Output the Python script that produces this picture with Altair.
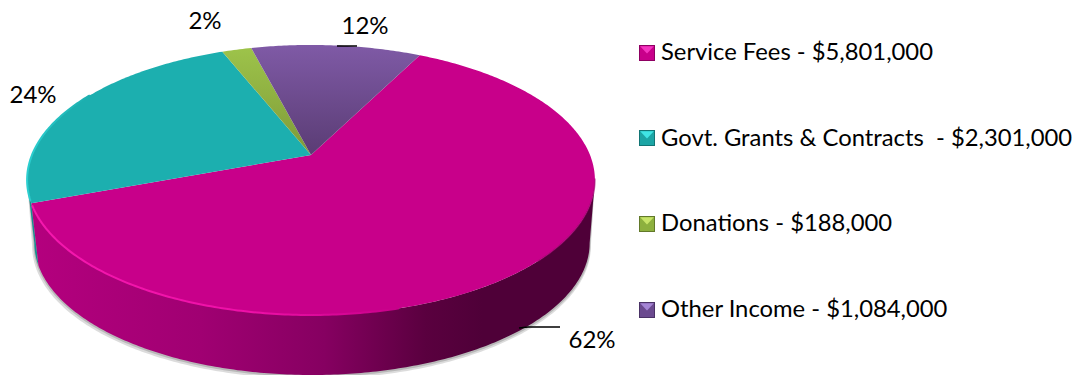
import math
import altair as alt
import pandas as pd

# ---- chart values ----
categories = ["Service Fees", "Govt. Grants & Contracts\u00a0", "Donations", "Other Income"]
amounts = [5801000, 2301000, 188000, 1084000]
amount_labels = ["$5,801,000", "$2,301,000", "$188,000", "$1,084,000"]
percent_labels = ["62%", "24%", "2%", "12%"]

# ---- geometry of the tilted pie ----
W, H = 1065, 367
START = 27.0
P = 0.185
CX, CY, A, B = 311.0, 155.0, 279.0, 130.4
BCX, BCY, BS = 312.0, 218.5, 0.978
FONT = "Lato"


def project(deg, cx=CX, cy=CY, s=1.0):
    t = math.radians(deg)
    u, v = math.sin(t), math.cos(t)
    w = 1 + P * v
    return cx + s * A * u / w, cy - s * B * v / w


def arc(a0, a1, **kw):
    n = max(2, int(abs(a1 - a0) * 1.5) + 1)
    return [project(a0 + (a1 - a0) * i / (n - 1), **kw) for i in range(n)]


def frame(points):
    return pd.DataFrame({"x": [p[0] for p in points], "y": [p[1] for p in points], "i": range(len(points))})


xs = alt.Scale(domain=[8, 8 + W], range=[0, W], zero=False, nice=False)
ys = alt.Scale(domain=[8, 8 + H], range=[0, H], zero=False, nice=False)
X = alt.X("x:Q", scale=xs, axis=None)
Y = alt.Y("y:Q", scale=ys, axis=None)


def polygon(points, fill, **kw):
    return alt.Chart(frame(points)).mark_line(
        fill=fill, strokeOpacity=0, interpolate="linear-closed", **kw
    ).encode(x=X, y=Y, order=alt.Order("i:Q"))


def stroke_line(points, stroke, width, **kw):
    return alt.Chart(frame(points)).mark_line(
        stroke=stroke, strokeWidth=width, **kw
    ).encode(x=X, y=Y, order=alt.Order("i:Q"))


def vgrad(top, bottom):
    return alt.Gradient(gradient="linear", x1=0, y1=0, x2=0, y2=1,
                        stops=[alt.GradientStop(offset=0, color=top), alt.GradientStop(offset=1, color=bottom)])


def hgrad(stops):
    return alt.Gradient(gradient="linear", x1=0, y1=0, x2=1, y2=0,
                        stops=[alt.GradientStop(offset=o, color=c) for o, c in stops])


total = sum(amounts)
edges = [START]
for a in amounts:
    edges.append(edges[-1] + a / total * 360)

EXT = math.degrees(math.acos(-P))  # where the outline is widest
R_EXT, L_EXT = EXT, 360 - EXT

layers = []

# soft shadow
wall_top = arc(R_EXT, L_EXT)
layers.append(polygon(wall_top + arc(L_EXT, R_EXT, cx=BCX - 0.5, cy=BCY + 3, s=BS + 0.006), "#777777", opacity=0.25))
layers.append(polygon(wall_top + arc(L_EXT, R_EXT, cx=BCX, cy=BCY + 1.5, s=BS + 0.003), "#777777", opacity=0.35))

# side wall
layers.append(polygon(arc(edges[1], L_EXT) + arc(L_EXT, edges[1], cx=BCX, cy=BCY, s=BS), "#17908F"))
layers.append(polygon(
    arc(R_EXT, edges[1]) + arc(edges[1], R_EXT, cx=BCX, cy=BCY, s=BS),
    hgrad([(0, "#B4007E"), (0.3, "#A00072"), (0.52, "#860061"), (0.7, "#5A003F"), (0.8, "#4F0038"), (1, "#4F0038")]),
))

# top face
fills = [
    "#C8008A",
    "#1CAFAF",
    vgrad("#9DC34A", "#7E9A38"),
    vgrad("#7F5AA6", "#5A3C74"),
]
for k, fill in enumerate(fills):
    layers.append(polygon([(CX, CY)] + arc(edges[k], edges[k + 1]), fill))

# rim highlights
layers.append(stroke_line(arc(edges[1] - 1, 165), hgrad([(0, "#F518AE"), (0.6, "#EE10A8"), (1, "#C8008A")]), 2))
layers.append(stroke_line(arc(edges[1] + 1, 300), hgrad([(0, "#2CCFD0"), (1, "#1CAFAF")]), 2))
layers.append(stroke_line(arc(100, 135), "#A00070", 1.5, opacity=0.6))

# leader lines (from the slice rims to the labels)
leader_df = pd.DataFrame({"x": [337, 357, 519, 528, 560], "y": [46, 46, 328, 327, 327],
                          "g": ["a", "a", "b", "b", "b"], "i": range(5)})
layers.append(alt.Chart(leader_df).mark_line(stroke="#000000", strokeWidth=1.5).encode(
    x=X, y=Y, detail="g:N", order=alt.Order("i:Q")))

# percentage labels
pct_df = pd.DataFrame({"x": [592, 33, 205, 365], "y": [341, 96, 22, 27], "t": percent_labels})
layers.append(alt.Chart(pct_df).mark_text(font=FONT, fontSize=24, color="#000000", align="center", baseline="middle").encode(
    x=X, y=Y, text="t:N"))

# legend
leg_y = [53, 138, 224, 310]
leg_x = 647
leg_text = [f"{c} - {a}" for c, a in zip(categories, amount_labels)]
swatches = [
    ("#C8008A", "#F535C0", "#8E0062"),
    ("#1CA5A5", "#40E5E5", "#127575"),
    ("#8DB03E", "#C8E468", "#62792A"),
    ("#6B4A8F", "#A585D5", "#4A3266"),
]
TOP_TRI = "M -0.85 -0.85 L 0.85 -0.85 L 0 0.05 Z"
for y, (mid, light, dark) in zip(leg_y, swatches):
    d = pd.DataFrame({"x": [leg_x], "y": [y]})
    layers.append(alt.Chart(d).mark_point(shape="square", size=256, filled=True, fill=dark, opacity=1, strokeOpacity=0).encode(x=X, y=Y))
    layers.append(alt.Chart(d).mark_point(shape="square", size=196, filled=True, fill=mid, opacity=1, strokeOpacity=0).encode(x=X, y=Y))
    layers.append(alt.Chart(d).mark_point(shape=TOP_TRI, size=256, filled=True, fill=light, opacity=1, strokeOpacity=0).encode(x=X, y=Y))

leg_df = pd.DataFrame({"x": [661] * 4, "y": [53, 139, 224, 310], "t": leg_text})
layers.append(alt.Chart(leg_df).mark_text(font=FONT, fontSize=23.8, color="#000000", align="left", baseline="middle").encode(
    x=X, y=Y, text="t:N"))

chart = alt.layer(*layers).properties(
    width=W, height=H, padding=0, autosize=alt.AutoSizeParams(type="none"),
    background="white",
).configure_view(stroke=None)

chart.save("out.html", embed_options={"renderer": "svg", "actions": False})
